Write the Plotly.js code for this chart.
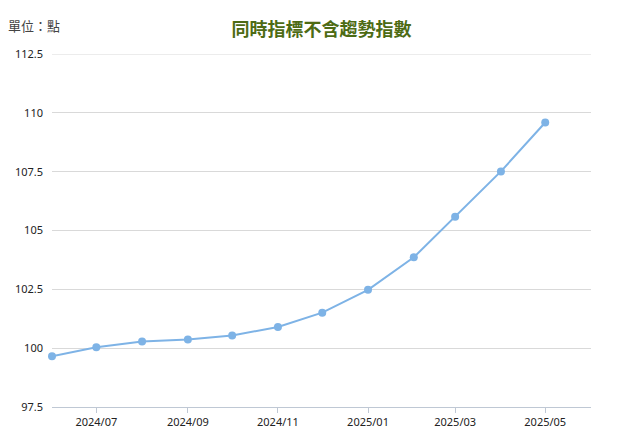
<!DOCTYPE html>
<html>
<head>
<meta charset="utf-8">
<script src="https://cdn.plot.ly/plotly-3.0.1.min.js"></script>
<style>
  html, body { margin: 0; padding: 0; background: #fff; }
  #chart { width: 643px; height: 446px; }
</style>
</head>
<body>
<div id="chart"></div>
<script>
// Monthly values
const months = ['2024-06-01', '2024-07-01', '2024-08-01', '2024-09-01', '2024-10-01', '2024-11-01',
  '2024-12-01', '2025-01-01', '2025-02-01', '2025-03-01', '2025-04-01', '2025-05-01'];
const indexValues = [99.66, 100.04, 100.28, 100.37, 100.54, 100.90,
  101.51, 102.48, 103.86, 105.58, 107.51, 109.59];

const yTicks = [97.5, 100, 102.5, 105, 107.5, 110, 112.5];
const yTickText = ['97.5', '100', '102.5', '105', '107.5', '110', '112.5'];

const titleText = '同時指標不含趨勢指數';
const unitText = '單位：點';

const baseFont = 'Segoe UI, "Noto Sans", "Noto Sans CJK TC", sans-serif';

const trace = {
  type: 'scatter',
  mode: 'lines+markers',
  x: months,
  y: indexValues,
  line: { color: '#7eb3e6', width: 2 },
  marker: { color: '#7eb3e6', size: 8 },
  cliponaxis: false,
  hoverinfo: 'x+y'
};

const yMax = yTicks[yTicks.length - 1];

const layout = {
  width: 643,
  height: 446,
  margin: { l: 52, r: 52, t: 54, b: 39 },
  paper_bgcolor: '#fff',
  plot_bgcolor: '#fff',
  showlegend: false,
  font: { family: baseFont, size: 11, color: '#333' },
  title: {
    text: '<b>' + titleText + '</b>',
    font: { family: '"Noto Sans CJK TC", sans-serif', size: 18, color: '#4d6b14' },
    x: 0.5, xanchor: 'center',
    y: 1 - 30 / 446, yref: 'container', yanchor: 'middle'
  },
  xaxis: {
    type: 'date',
    range: ['2024-06-01', '2025-06-01'],
    tick0: '2024-07-01',
    dtick: 'M2',
    tickformat: '%Y/%m',
    showgrid: false,
    zeroline: false,
    showline: true,
    linecolor: '#bfc8d4',
    linewidth: 1,
    ticks: 'outside',
    ticklen: 5,
    tickcolor: '#bfc8d4',
    tickfont: { family: baseFont, size: 11, color: '#222' }
  },
  yaxis: {
    range: [97.5, 112.5],
    tickmode: 'array',
    tickvals: yTicks,
    ticktext: yTickText,
    showgrid: true,
    gridcolor: '#d9d9d9',
    gridwidth: 1,
    zeroline: false,
    showline: false,
    ticks: '',
    ticklabelstandoff: 8,
    tickfont: { family: baseFont, size: 11, color: '#222' }
  },
  // top gridline sits on the plot edge, plotly skips it, so draw it
  shapes: [{
    type: 'line', layer: 'below',
    xref: 'paper', x0: 0, x1: 1,
    yref: 'y', y0: yMax, y1: yMax,
    line: { color: '#d9d9d9', width: 1 }
  }],
  annotations: [{
    text: unitText,
    xref: 'paper', yref: 'paper',
    x: -46 / 539, y: 1 + 28 / 353,
    xanchor: 'left', yanchor: 'middle',
    showarrow: false,
    font: { family: '"Noto Sans CJK TC", sans-serif', size: 13, color: '#444' }
  }]
};

Plotly.newPlot('chart', [trace], layout, { displayModeBar: false, staticPlot: true });
</script>
</body>
</html>
